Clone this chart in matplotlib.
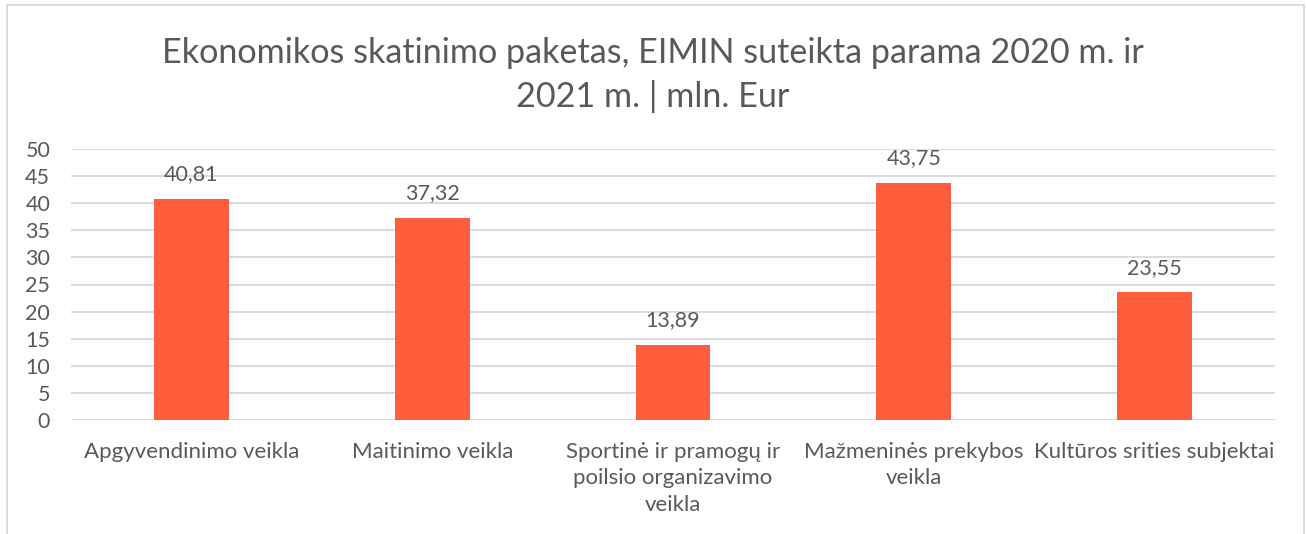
import matplotlib
matplotlib.use("Agg")
import matplotlib.pyplot as plt
from matplotlib.lines import Line2D

categories = ["Apgyvendinimo veikla", "Maitinimo veikla",
              "Sportinė ir pramogų ir\npoilsio organizavimo\nveikla",
              "Mažmeninės prekybos\nveikla", "Kultūros srities subjektai"]
values = [40.81, 37.32, 13.89, 43.75, 23.55]
value_labels = ["40,81", "37,32", "13,89", "43,75", "23,55"]
yticks = [0, 5, 10, 15, 20, 25, 30, 35, 40, 45, 50]
title = "Ekonomikos skatinimo paketas, EIMIN suteikta parama 2020 m. ir\n2021 m. | mln. Eur"

plt.rcParams['font.family'] = ['Lato', 'DejaVu Sans']
W, H = 1306, 534
fig = plt.figure(figsize=(W / 100, H / 100), dpi=100)
ax = fig.add_axes([71 / W, 1 - 420 / H, (1275 - 71) / W, (420 - 149) / H])

gray = '#595959'
grid = '#D9D9D9'
bar_color = '#FF5E3C'
fs = 15.5

x = list(range(len(categories)))
ax.bar(x, values, width=0.31, color=bar_color, zorder=3)
ax.set_xlim(-0.5, len(categories) - 0.5)
ax.set_ylim(0, 50)
ax.set_yticks(yticks)
ax.set_yticklabels([str(t) for t in yticks], fontsize=fs, color=gray)
ax.set_xticks(x)
ax.set_xticklabels(categories, fontsize=16, color=gray, linespacing=1.42,
                   va='top', ha='center')
ax.tick_params(axis='both', length=0)
ax.tick_params(axis='y', pad=15)
ax.tick_params(axis='x', pad=15.5)
ax.yaxis.grid(True, color=grid, linewidth=1.3, zorder=0)
for s in ax.spines.values():
    s.set_visible(False)

for xi, v, lab in zip(x, values, value_labels):
    ax.annotate(lab, (xi, v), xytext=(0, 10.5), textcoords='offset points',
                ha='center', va='bottom', fontsize=fs, color=gray)

fig.text(0.5, 1 - 75 / H, title, ha='center', va='center', fontsize=24.6,
         fontweight='normal', color=gray, linespacing=1.4)

# chart border (left, top, right)
bx0, bx1, by0 = 7 / W, 1304 / W, 1 - 5 / H
fig.add_artist(Line2D([bx0, bx0], [0, by0], color=grid, lw=1.3, transform=fig.transFigure))
fig.add_artist(Line2D([bx1, bx1], [0, by0], color=grid, lw=1.3, transform=fig.transFigure))
fig.add_artist(Line2D([bx0, bx1], [by0, by0], color=grid, lw=1.3, transform=fig.transFigure))

fig.savefig("out.png", dpi=100)
